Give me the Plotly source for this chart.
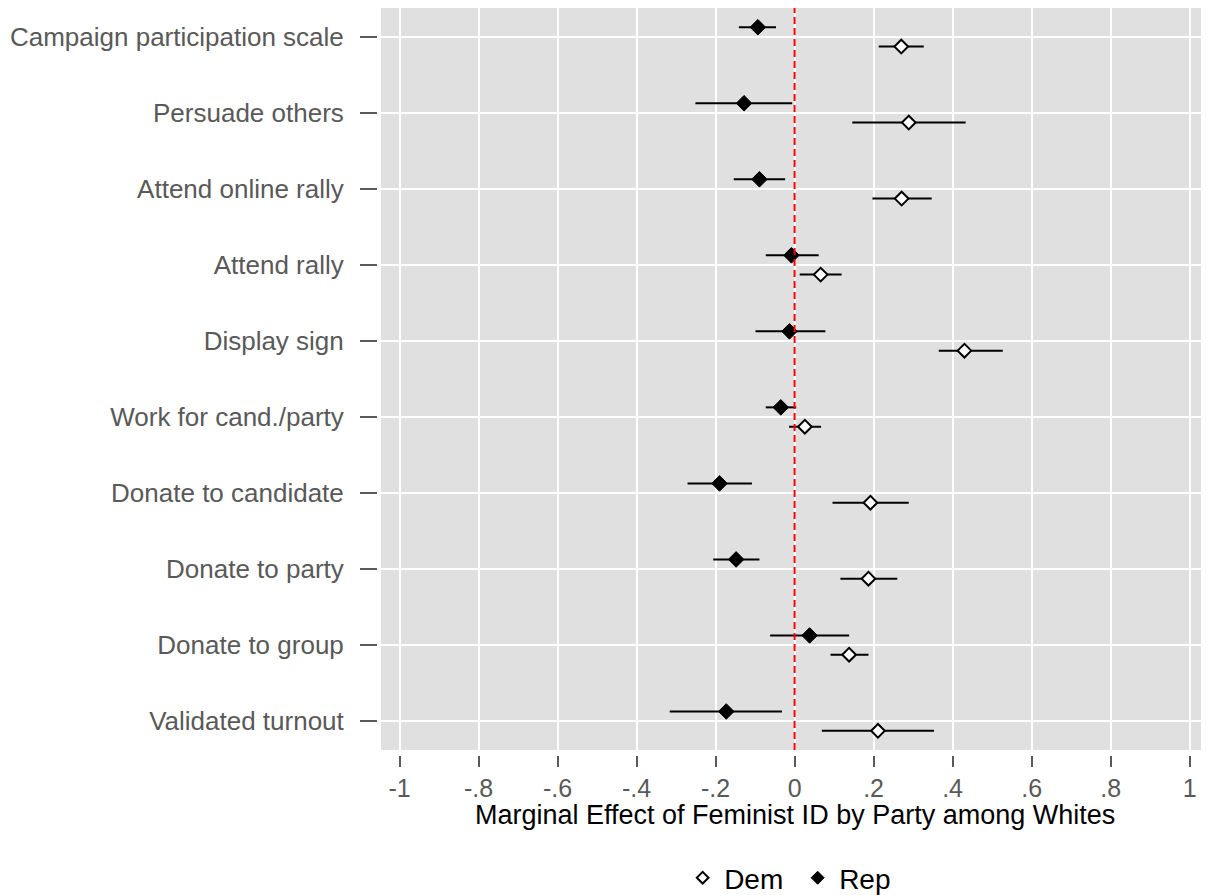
import plotly.graph_objects as go

categories = ["Campaign participation scale", "Persuade others", "Attend online rally",
              "Attend rally", "Display sign", "Work for cand./party", "Donate to candidate",
              "Donate to party", "Donate to group", "Validated turnout"]

rep_est = [-0.093, -0.128, -0.089, -0.008, -0.013, -0.035, -0.190, -0.148, 0.038, -0.173]
rep_lo = [-0.141, -0.251, -0.154, -0.073, -0.099, -0.073, -0.271, -0.206, -0.062, -0.316]
rep_hi = [-0.047, -0.006, -0.024, 0.061, 0.078, 0.004, -0.108, -0.089, 0.138, -0.032]

dem_est = [0.270, 0.289, 0.271, 0.066, 0.430, 0.026, 0.192, 0.187, 0.138, 0.211]
dem_lo = [0.213, 0.146, 0.197, 0.013, 0.365, -0.014, 0.096, 0.116, 0.091, 0.069]
dem_hi = [0.327, 0.433, 0.347, 0.119, 0.527, 0.067, 0.289, 0.260, 0.187, 0.353]

x_tickvals = [-1, -0.8, -0.6, -0.4, -0.2, 0, 0.2, 0.4, 0.6, 0.8, 1]
x_ticktext = ["-1", "-.8", "-.6", "-.4", "-.2", "0", ".2", ".4", ".6", ".8", "1"]

off = 0.127
idx = list(range(len(categories)))
y_rep = [i - off for i in idx]
y_dem = [i + off for i in idx]

fig = go.Figure()

fig.add_trace(go.Scatter(
    x=dem_est, y=y_dem, mode="markers", showlegend=False,
    marker=dict(symbol="diamond", size=10.5, color="white", line=dict(color="black", width=2)),
    error_x=dict(type="data", symmetric=False,
                 array=[h - e for h, e in zip(dem_hi, dem_est)],
                 arrayminus=[e - l for e, l in zip(dem_est, dem_lo)],
                 width=0, thickness=2, color="black"),
))
fig.add_trace(go.Scatter(
    x=rep_est, y=y_rep, mode="markers", showlegend=False,
    marker=dict(symbol="diamond", size=12, color="black", line=dict(color="black", width=1)),
    error_x=dict(type="data", symmetric=False,
                 array=[h - e for h, e in zip(rep_hi, rep_est)],
                 arrayminus=[e - l for e, l in zip(rep_est, rep_lo)],
                 width=0, thickness=2, color="black"),
))

# legend entries
fig.add_trace(go.Scatter(x=[None], y=[None], mode="markers", name="Dem",
                         marker=dict(symbol="diamond", size=9, color="white",
                                     line=dict(color="black", width=2))))
fig.add_trace(go.Scatter(x=[None], y=[None], mode="markers", name="Rep",
                         marker=dict(symbol="diamond", size=10, color="black",
                                     line=dict(color="black", width=1))))

fig.add_shape(type="line", xref="x", yref="paper", x0=0, x1=0, y0=5/747, y1=1,
              line=dict(color="#ff0000", width=2, dash="7px,4px"))

fig.update_layout(
    width=1209, height=895,
    margin=dict(l=369, r=10, t=0, b=148, autoexpand=False),
    paper_bgcolor="white", plot_bgcolor="#e0e0e0",
    font=dict(family="Liberation Sans, Arial, sans-serif", color="#595959"),
    xaxis=dict(domain=[4/830, 1], range=[-1.047, 1.044], anchor="free", position=0,
               tickvals=x_tickvals, ticktext=x_ticktext,
               ticks="outside", ticklen=11, tickwidth=1.5, tickcolor="#595959",
               tickfont=dict(size=25, color="#595959"), ticklabelstandoff=0,
               showgrid=True, gridcolor="white", gridwidth=2, zeroline=False,
               showline=False, fixedrange=True, automargin=False),
    yaxis=dict(domain=[5/747, 1], range=[9.38, -0.38], anchor="free", position=0,
               tickvals=idx, ticktext=categories,
               ticks="outside", ticklen=17, tickwidth=1.5, tickcolor="#595959",
               tickfont=dict(size=26, color="#595959"), ticklabelstandoff=11,
               showgrid=True, gridcolor="white", gridwidth=2, zeroline=False,
               showline=False, fixedrange=True, automargin=False),
    legend=dict(orientation="h", x=0.505, xanchor="center", y=-0.1647, yanchor="middle",
                font=dict(size=28, color="black"), bgcolor="rgba(0,0,0,0)",
                itemwidth=33, tracegroupgap=0, entrywidth=67),
    annotations=[dict(text="Marginal Effect of Feminist ID by Party among Whites",
                      xref="paper", yref="paper", x=0.5036, y=-0.0803,
                      xanchor="center", yanchor="middle", showarrow=False,
                      font=dict(size=27, color="black"))],
)

fig.write_html("out.html")
